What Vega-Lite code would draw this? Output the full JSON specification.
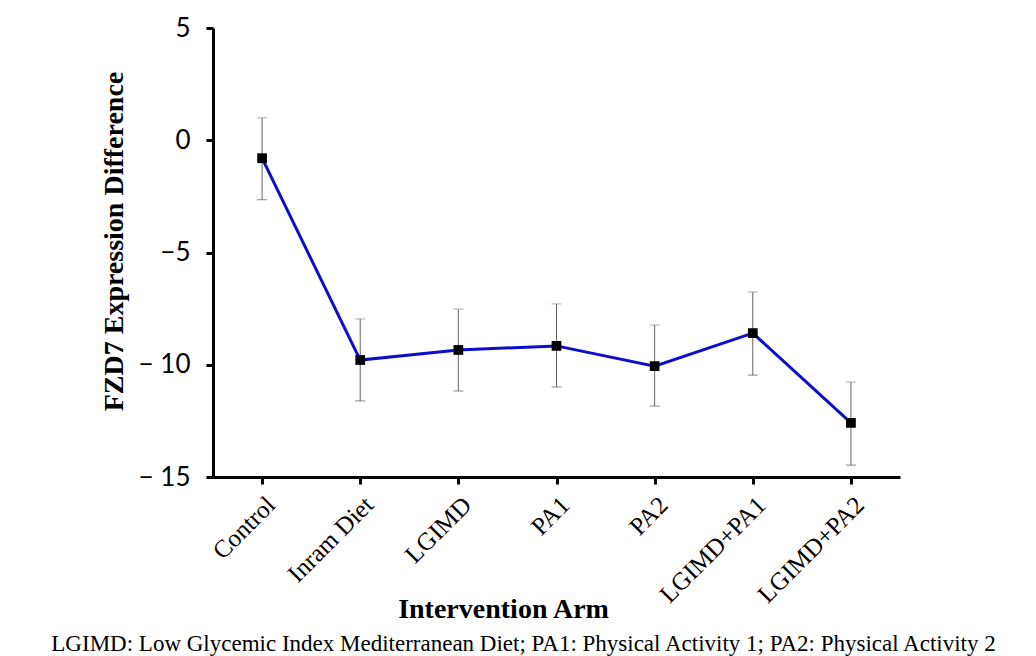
{
  "$schema": "https://vega.github.io/schema/vega-lite/v6.json",
  "autosize": "none",
  "width": 687,
  "height": 449,
  "padding": {"left": 213, "top": 28, "right": 136, "bottom": 179},
  "background": "white",
  "config": {"view": {"stroke": null}},
  "title": {
    "text": "LGIMD: Low Glycemic Index Mediterranean Diet; PA1: Physical Activity 1; PA2: Physical Activity 2",
    "orient": "bottom",
    "anchor": "middle",
    "frame": "group",
    "offset": 10,
    "dx": -33,
    "font": "Liberation Serif",
    "fontSize": 23,
    "fontWeight": "normal",
    "color": "black"
  },
  "data": {
    "values": [
      {"arm": "Control", "mean": -0.8, "lo": -2.65, "hi": 1.0},
      {"arm": "Inram Diet", "mean": -9.79, "lo": -11.61, "hi": -7.96},
      {"arm": "LGIMD", "mean": -9.34, "lo": -11.17, "hi": -7.52},
      {"arm": "PA1", "mean": -9.16, "lo": -10.99, "hi": -7.29},
      {"arm": "PA2", "mean": -10.06, "lo": -11.84, "hi": -8.23},
      {"arm": "LGIMD+PA1", "mean": -8.59, "lo": -10.46, "hi": -6.76},
      {"arm": "LGIMD+PA2", "mean": -12.59, "lo": -14.47, "hi": -10.77}
    ]
  },
  "encoding": {
    "x": {
      "field": "arm",
      "type": "nominal",
      "sort": null,
      "scale": {"type": "point", "padding": 0.5},
      "axis": {
        "title": "Intervention Arm",
        "titleFont": "Liberation Serif",
        "titleFontSize": 28,
        "titleFontWeight": "bold",
        "titleColor": "black",
        "titleX": 290,
        "titleY": 140,
        "titleAlign": "center",
        "titleBaseline": "alphabetic",
        "labelAngle": -45,
        "labelFont": "Liberation Serif",
        "labelFontSize": 25,
        "labelColor": "black",
        "labelPadding": 8,
        "domainColor": "black",
        "domainWidth": 3,
        "tickColor": "black",
        "tickWidth": 3,
        "tickSize": 7,
        "grid": false
      }
    }
  },
  "layer": [
    {
      "mark": {"type": "rule", "color": "#666666", "strokeWidth": 1},
      "encoding": {
        "y": {"field": "lo", "type": "quantitative"},
        "y2": {"field": "hi"}
      }
    },
    {
      "mark": {"type": "tick", "color": "#555555", "thickness": 1, "size": 10, "orient": "horizontal"},
      "encoding": {"y": {"field": "lo", "type": "quantitative"}}
    },
    {
      "mark": {"type": "tick", "color": "#888888", "thickness": 1, "size": 10, "orient": "horizontal"},
      "encoding": {"y": {"field": "hi", "type": "quantitative"}}
    },
    {
      "mark": {"type": "line", "color": "#0D0DCC", "strokeWidth": 3},
      "encoding": {
        "y": {
          "field": "mean",
          "type": "quantitative",
          "scale": {"domain": [-15, 5], "nice": false, "zero": false},
          "axis": {
            "title": "FZD7 Expression Difference",
            "titleFont": "Liberation Serif",
            "titleFontSize": 28,
            "titleFontWeight": "bold",
            "titleColor": "black",
            "titleX": -99,
            "titleY": 213,
            "titleAlign": "center",
            "titleBaseline": "middle",
            "values": [-15, -10, -5, 0, 5],
            "labelExpr": "datum.value == 0 ? '0' : datum.value == 5 ? '5' : datum.value == -5 ? '\u22125' : '\u2212 ' + abs(datum.value)",
            "labelFont": "Lato",
            "labelFontSize": 26,
            "labelColor": "black",
            "labelPadding": 16,
            "domainColor": "black",
            "domainWidth": 3,
            "tickColor": "black",
            "tickWidth": 3,
            "tickSize": 7,
            "grid": false
          }
        }
      }
    },
    {
      "mark": {"type": "point", "shape": "square", "filled": true, "color": "black", "size": 95, "opacity": 1},
      "encoding": {"y": {"field": "mean", "type": "quantitative"}}
    }
  ]
}
